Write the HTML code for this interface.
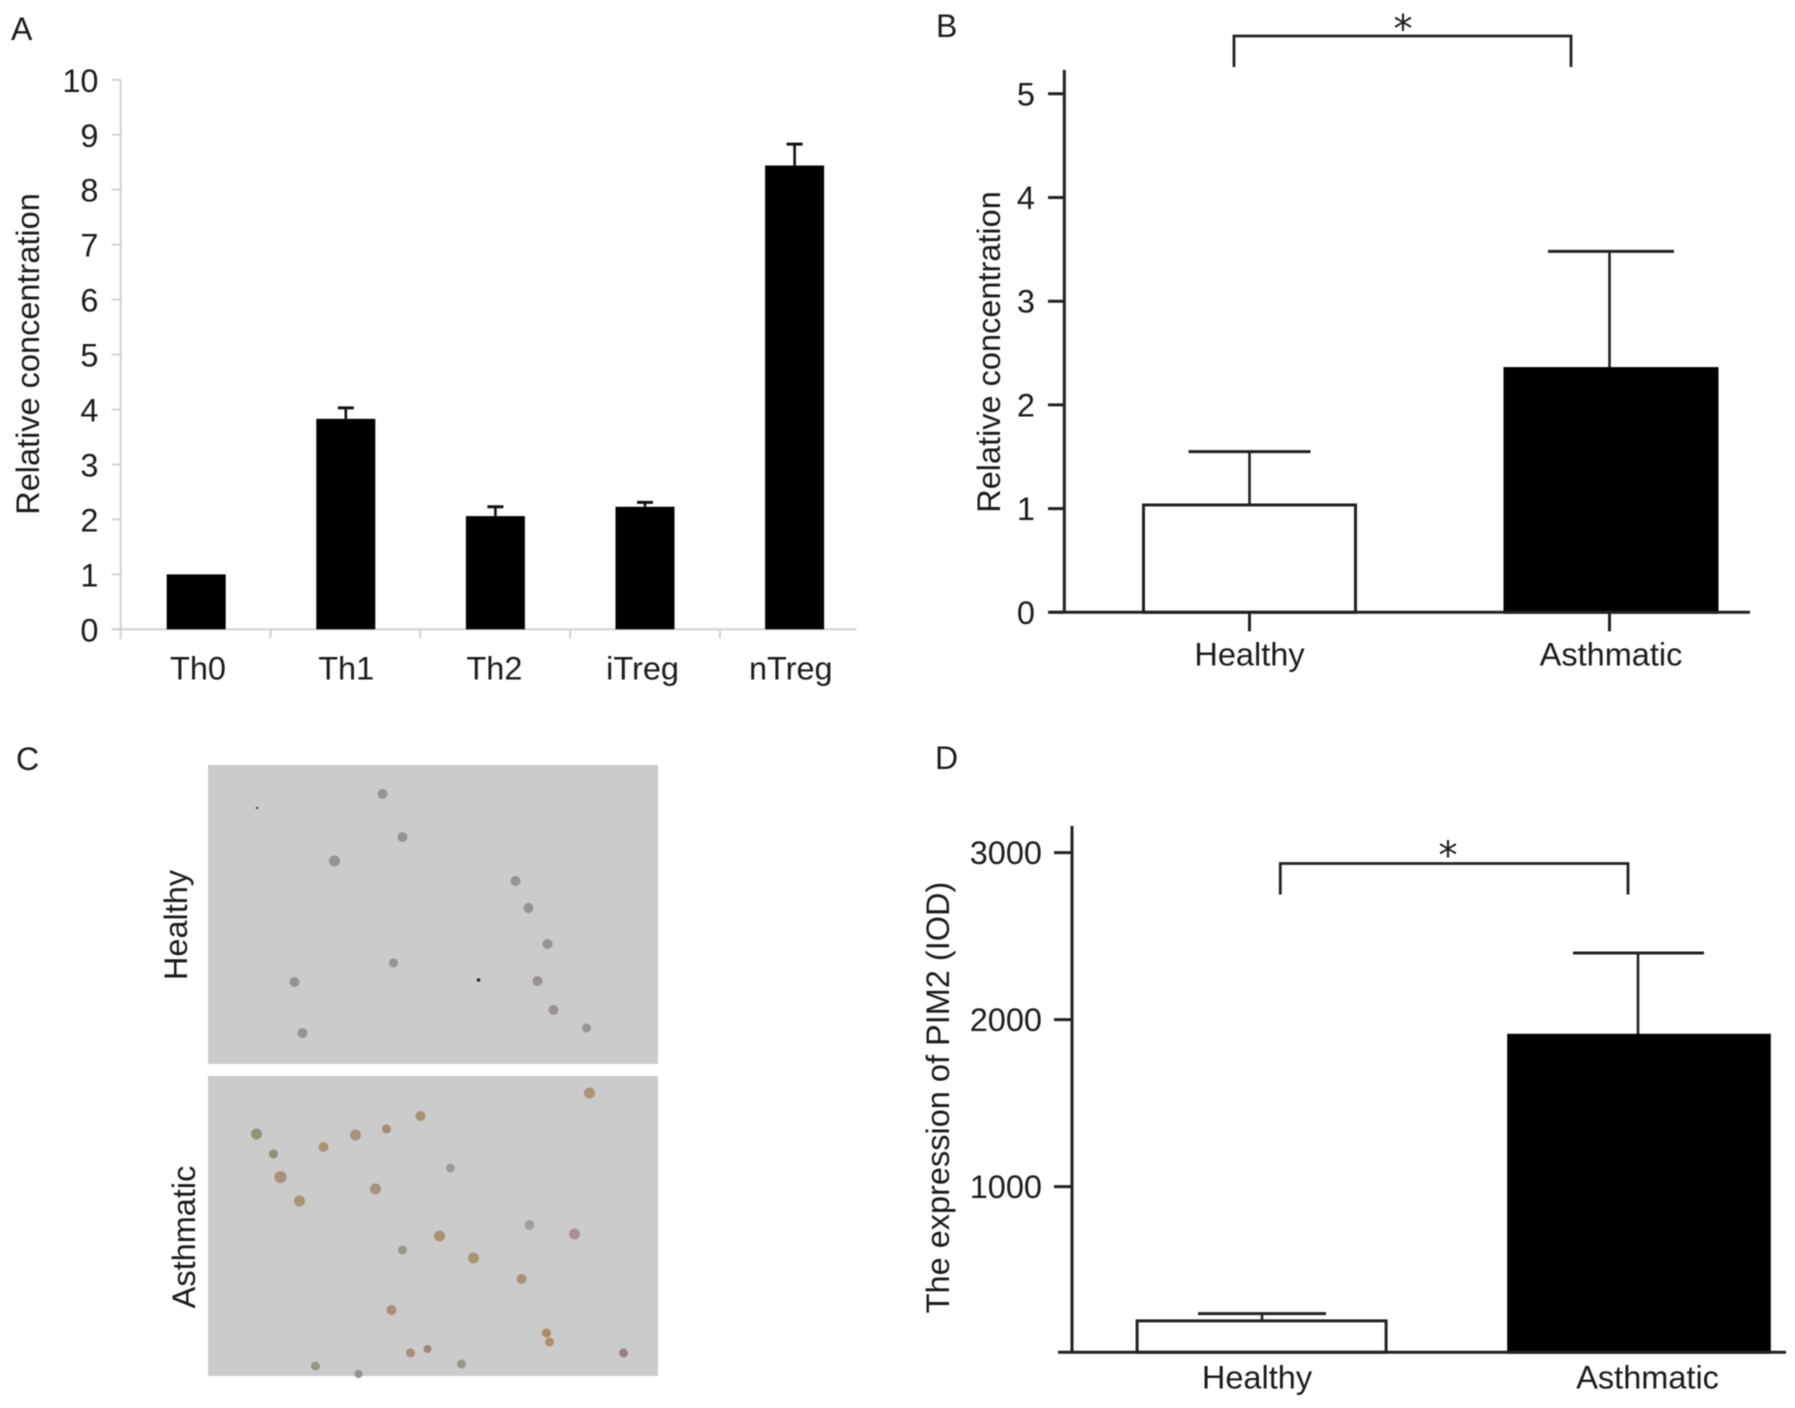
<!DOCTYPE html>
<html lang="en">
<head>
<meta charset="utf-8">
<title>PIM2 expression figure</title>
<style>
  html, body { margin: 0; padding: 0; background: #fff; }
  #figure { display: block; width: 1795px; height: 1408px; filter: blur(0.6px); }
  text { font-family: "Liberation Sans", sans-serif; fill: #1c1c1c; }
</style>
</head>
<body>
<svg id="figure" xmlns="http://www.w3.org/2000/svg" width="1795" height="1408" viewBox="0 0 1795 1408">
  <rect width="1795" height="1408" fill="#fff"/>

  <text x="11" y="40" font-size="32">A</text>
  <text x="936" y="37" font-size="32">B</text>
  <text x="16" y="770" font-size="32">C</text>
  <text x="935" y="769" font-size="32">D</text>

  <g>
    <rect x="208" y="765" width="450" height="299" fill="#cbcbcb"/>
    <rect x="208" y="1076" width="450" height="300" fill="#cbcbcb"/>
    <g fill="#979390" transform="translate(-1.5 -4)">
      <circle cx="384" cy="798" r="5"/><circle cx="404" cy="841" r="5"/><circle cx="336" cy="865" r="5.5"/>
      <circle cx="517" cy="885" r="5"/><circle cx="530" cy="912" r="5"/><circle cx="549" cy="948" r="5"/>
      <circle cx="395" cy="967" r="4.5"/><circle cx="296" cy="986" r="5"/><circle cx="539" cy="985" r="5"/>
      <circle cx="555" cy="1014" r="5"/><circle cx="588" cy="1032" r="4.5"/><circle cx="304" cy="1037" r="5"/>
      <circle cx="258.5" cy="812" r="1.2" fill="#444"/><circle cx="480" cy="984" r="1.8" fill="#222"/>
    </g>
    <g fill="#a59478" transform="translate(-1.5 -6)">
      <circle cx="258" cy="1140" r="5.5" fill="#94927a"/><circle cx="275" cy="1160" r="4.5" fill="#8f9078"/>
      <circle cx="282" cy="1183" r="6" fill="#ab907c"/><circle cx="301" cy="1207" r="5.5" fill="#a39673"/>
      <circle cx="325" cy="1153" r="5" fill="#ad9472"/><circle cx="357" cy="1141" r="5.5" fill="#a39681"/>
      <circle cx="388" cy="1135" r="4.5" fill="#a88a6e"/><circle cx="422" cy="1122" r="5" fill="#a8926f"/>
      <circle cx="591" cy="1099" r="5.5" fill="#ad9570"/><circle cx="377" cy="1195" r="5.5" fill="#ab9080"/>
      <circle cx="452" cy="1174" r="4.5" fill="#9c9a94"/><circle cx="531" cy="1231" r="5" fill="#a3a09a"/>
      <circle cx="576" cy="1240" r="5.5" fill="#a8929a"/><circle cx="441" cy="1242" r="5.5" fill="#ad9070"/>
      <circle cx="404" cy="1256" r="4.5" fill="#989690"/><circle cx="475" cy="1264" r="5.5" fill="#ad9475"/>
      <circle cx="523" cy="1285" r="5" fill="#a39680"/><circle cx="393" cy="1316" r="5" fill="#ab9075"/>
      <circle cx="548" cy="1339" r="4.5" fill="#ad8c60"/><circle cx="551" cy="1348" r="4.5" fill="#ad8f68"/>
      <circle cx="625" cy="1359" r="4.5" fill="#9a8080"/><circle cx="412" cy="1359" r="4.5" fill="#ab8a78"/>
      <circle cx="429" cy="1355" r="4" fill="#a08480"/><circle cx="463" cy="1370" r="4.5" fill="#97958e"/>
      <circle cx="317" cy="1372" r="4.5" fill="#979585"/><circle cx="360" cy="1380" r="4" fill="#94928c"/>
    </g>
    <text transform="translate(187 925) rotate(-90)" text-anchor="middle" font-size="32.5">Healthy</text>
    <text transform="translate(195 1237) rotate(-90)" text-anchor="middle" font-size="32.5">Asthmatic</text>
  </g>

  <g id="chart-a"></g>
  <g id="chart-b"></g>
  <g id="chart-d"></g>
</svg>

<script>
// Panel A data
const aCategories = ['Th0', 'Th1', 'Th2', 'iTreg', 'nTreg'];
const aMeans = [1.0, 3.83, 2.06, 2.23, 8.44];
const aUpper = [1.0, 4.03, 2.23, 2.31, 8.83];
const aTicks = [0, 1, 2, 3, 4, 5, 6, 7, 8, 9, 10];

// Panel B data
const bCategories = ['Healthy', 'Asthmatic'];
const bMeans = [1.035, 2.35];
const bUpper = [1.55, 3.48];
const bTicks = [0, 1, 2, 3, 4, 5];

// Panel D data
const dCategories = ['Healthy', 'Asthmatic'];
const dMeans = [196, 1906];
const dUpper = [239, 2399];
const dTicks = [1000, 2000, 3000];

const NS = 'http://www.w3.org/2000/svg';
function svgEl(tag, parent, props) {
  const el = document.createElementNS(NS, tag);
  for (const k in props) el.setAttribute(k, props[k]);
  parent.appendChild(el);
  return el;
}
function line(parent, x1, y1, x2, y2, stroke, w) {
  return svgEl('line', parent, { x1: x1, y1: y1, x2: x2, y2: y2, stroke: stroke, 'stroke-width': w });
}
function label(parent, x, y, str, anchor) {
  const t = svgEl('text', parent, { x: x, y: y, 'font-size': 32.5, 'text-anchor': anchor });
  t.textContent = str;
  return t;
}
function yTitle(parent, x, y, str) {
  const t = svgEl('text', parent, { transform: 'translate(' + x + ' ' + y + ') rotate(-90)', 'font-size': 32.5, 'text-anchor': 'middle' });
  t.textContent = str;
  
  
  return t;
}
function bracket(parent, x1, x2, top, bottom, starX, starY) {
  const p = svgEl('path', parent, { d: 'M' + x1 + ' ' + bottom + 'V' + top + 'H' + x2 + 'V' + bottom, fill: 'none', stroke: '#222', 'stroke-width': 2.8 });
  
  
  const s = svgEl('text', parent, { x: starX, y: starY, 'font-size': 38, 'text-anchor': 'middle', style: 'font-family:"DejaVu Sans",sans-serif' });
  s.textContent = '*';
  
  
}

/* ---------- Panel A ---------- */
(function () {
  const g = document.getElementById('chart-a');
  const y = v => 629.3 - v * 54.95;
  const band = i => 120.7 + 149.8 * i;
  const cx = i => 196.2 + 149.6 * i;
  const labelX = i => 198 + 148.2 * i;
  const axisColor = '#d2d2d2';

  const yAxis = line(g, 120.7, y(10), 120.7, y(0) + 10, axisColor, 2);
  
  
  const xAxis = line(g, 111.7, y(0), 856.5, y(0), axisColor, 2);
  
  

  aTicks.forEach(v => {
    const tick = line(g, 111.7, y(v), 120.7, y(v), axisColor, 2);
    
    
    const t = label(g, 98.5, y(v) + 12, String(v), 'end');
    
    
  });

  aCategories.forEach((c, i) => {
    if (i > 0) {
      const tick = line(g, band(i), y(0), band(i), y(0) + 9, axisColor, 2);
      
      
    }
    if (aUpper[i] > aMeans[i]) {
      const stem = line(g, cx(i), y(aUpper[i]), cx(i), y(aMeans[i]), '#111', 2.6);
      
      
      const cap = line(g, cx(i) - 8, y(aUpper[i]), cx(i) + 8, y(aUpper[i]), '#111', 3);
      
      
    }
    const bar = svgEl('rect', g, { x: cx(i) - 29.5, y: y(aMeans[i]), width: 59, height: y(0) - y(aMeans[i]), fill: '#000' });
    
    
    const t = label(g, labelX(i), 679.6, c, 'middle');
    
    
  });

  yTitle(g, 39, 354, 'Relative concentration');
})();

/* ---------- Panel B ---------- */
(function () {
  const g = document.getElementById('chart-b');
  const y = v => 612.3 - v * 103.7;
  const cx = i => 1249.5 + 361.5 * i;
  const ink = '#222';

  const yAxis = line(g, 1064.3, 70, 1064.3, y(0), ink, 3);
  
  

  bTicks.forEach(v => {
    const tick = line(g, 1048, y(v), 1064.3, y(v), ink, 3);
    
    
    const t = label(g, 1035, y(v) + 11.5, String(v), 'end');
    
    
  });

  bCategories.forEach((c, i) => {
    const stem = line(g, cx(i) - i * 1.5, y(bUpper[i]), cx(i) - i * 1.5, y(bMeans[i]), ink, 2.6);
    
    
    const cap = line(g, cx(i) - 61 - i * 2, y(bUpper[i]), cx(i) + 61 + i * 2, y(bUpper[i]), ink, 3);
    
    
    const bar = svgEl('rect', g, { x: cx(i) - 106, y: y(bMeans[i]), width: 212, height: y(0) - y(bMeans[i]), fill: i === 0 ? '#fff' : '#000', stroke: i === 0 ? ink : '#000', 'stroke-width': 3 });
    
    
    const tick = line(g, cx(i) - i * 1.5, y(0), cx(i) - i * 1.5, y(0) + 19, ink, 3);
    
    
    const t = label(g, cx(i), 665.6, c, 'middle');
    
    
  });

  const xAxis = line(g, 1051, y(0), 1750, y(0), ink, 3);
  
  

  yTitle(g, 1000, 352, 'Relative concentration');
  bracket(g, 1234, 1571, 36, 67, 1403, 42);
})();

/* ---------- Panel D ---------- */
(function () {
  const g = document.getElementById('chart-d');
  const y = v => 1353.6 - v * 0.167;
  const axisY = 1352.3;
  const cx = i => 1262 + 376 * i;
  const barCx = i => 1261.6 + 377.4 * i;
  const barW = i => (i === 0 ? 249 : 260.6);
  const ink = '#222';

  const yAxis = line(g, 1072, 826, 1072, axisY, ink, 3);
  
  

  dTicks.forEach(v => {
    const tick = line(g, 1054, y(v), 1072, y(v), ink, 3);
    
    
    const t = label(g, 1042, y(v) + 11.5, String(v), 'end');
    
    
  });

  dCategories.forEach((c, i) => {
    const stem = line(g, cx(i), y(dUpper[i]), cx(i), y(dMeans[i]), ink, 2.6);
    
    
    const cap = line(g, cx(i) - 64 - i, y(dUpper[i]), cx(i) + 64 + i * 2, y(dUpper[i]), ink, 3);
    
    
    const bar = svgEl('rect', g, { x: barCx(i) - barW(i) / 2, y: y(dMeans[i]), width: barW(i), height: axisY - y(dMeans[i]), fill: i === 0 ? '#fff' : '#000', stroke: i === 0 ? ink : '#000', 'stroke-width': 3 });
    
    
    const t = label(g, 1257 + 390.6 * i, 1388.5, c, 'middle');
    
    
  });

  const xAxis = line(g, 1058, axisY, 1786, axisY, ink, 3);
  
  

  yTitle(g, 949, 1097.5, 'The expression of PIM2 (IOD)');
  bracket(g, 1280.3, 1628, 863.5, 894.5, 1448, 868.5);
})();
</script>
</body>
</html>
